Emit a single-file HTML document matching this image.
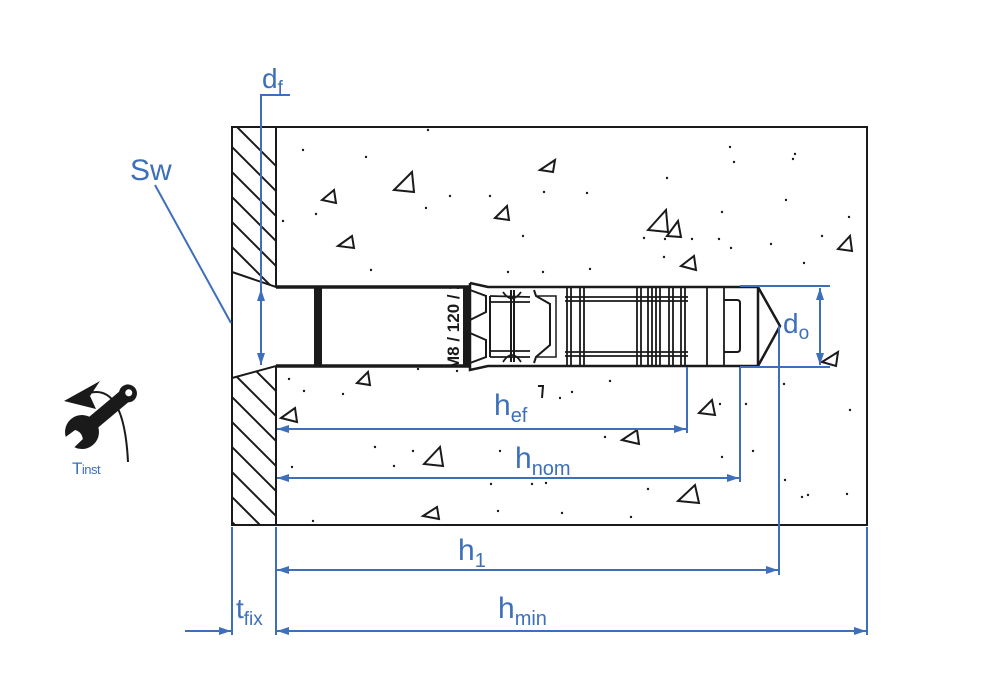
<!DOCTYPE html>
<html><head><meta charset="utf-8"><style>
html,body{margin:0;padding:0;background:#fff;}
svg{display:block;}
text{font-family:"Liberation Sans",Arial,sans-serif;fill:#3d6fba;}
</style></head><body>
<svg width="1000" height="700" viewBox="0 0 1000 700" xmlns="http://www.w3.org/2000/svg">
<defs>
<clipPath id="pl"><polygon points="232,127 276,127 276,287 232,272 232,378 276,366 276,525 232,525"/></clipPath>
<clipPath id="tx"><rect x="440" y="288" width="24" height="77"/></clipPath>
<marker id="a" viewBox="0 0 12 8" refX="12" refY="4" markerWidth="12" markerHeight="8" orient="auto-start-reverse" markerUnits="userSpaceOnUse"><path d="M0,0 L12,4 L0,8 Z" fill="#3d6fba"/></marker>
</defs>
<rect x="232" y="127" width="635" height="398" fill="#fff" stroke="#1a1a1a" stroke-width="2"/>
<g clip-path="url(#pl)" stroke="#1a1a1a" stroke-width="2">
<line x1="200" y1="90" x2="320" y2="210"/><line x1="200" y1="115" x2="320" y2="235"/><line x1="200" y1="140" x2="320" y2="260"/><line x1="200" y1="165" x2="320" y2="285"/><line x1="200" y1="190" x2="320" y2="310"/><line x1="200" y1="215" x2="320" y2="335"/><line x1="200" y1="240" x2="320" y2="360"/><line x1="200" y1="265" x2="320" y2="385"/><line x1="200" y1="290" x2="320" y2="410"/><line x1="200" y1="315" x2="320" y2="435"/><line x1="200" y1="340" x2="320" y2="460"/><line x1="200" y1="365" x2="320" y2="485"/><line x1="200" y1="390" x2="320" y2="510"/><line x1="200" y1="415" x2="320" y2="535"/><line x1="200" y1="440" x2="320" y2="560"/><line x1="200" y1="465" x2="320" y2="585"/><line x1="200" y1="490" x2="320" y2="610"/><line x1="200" y1="515" x2="320" y2="635"/>
</g>
<g fill="none" stroke="#1a1a1a" stroke-width="2">
<polyline points="232,127 232,525"/>
<polyline points="276,127 276,287 232,272"/>
<polyline points="232,378 276,366 276,525"/>
</g>
<g fill="none" stroke="#1a1a1a">
<line x1="276" y1="287" x2="470" y2="287" stroke-width="3.5"/>
<line x1="276" y1="366" x2="470" y2="366" stroke-width="3.5"/>
<rect x="314" y="288" width="8" height="77" fill="#1a1a1a" stroke="none"/>
<rect x="463" y="288" width="6" height="77" fill="#1a1a1a" stroke="none"/>
<polyline points="470,283 488,287 758,287 758,366 488,366 470,370 470,283" stroke-width="2.5"/>
<polyline points="470,290 486,296 486,312 470,320 470,333 486,340 486,357 470,363" stroke-width="2"/>
<line x1="490" y1="296" x2="490" y2="357" stroke-width="2"/>
<line x1="511" y1="290" x2="511" y2="362" stroke-width="2"/>
<line x1="514" y1="290" x2="514" y2="362" stroke-width="2"/>
<path d="M490,296 L530,297 M490,302 L530,302 M490,351 L530,351 M490,357 L530,357 M503,292 Q512,305 521,292 M503,362 Q512,348 521,362" stroke-width="1.8"/>
<polyline points="534,290 536,296 550,304 550,345 536,357 534,363" stroke-width="2"/>
<polyline points="537,296 556,296 556,357 537,357" stroke-width="1.5"/>
<g stroke-width="1.8">
<line x1="567" y1="287" x2="567" y2="366"/><line x1="571" y1="287" x2="571" y2="366"/>
<line x1="580" y1="287" x2="580" y2="366"/><line x1="584" y1="287" x2="584" y2="366"/>
<line x1="637" y1="287" x2="637" y2="366"/><line x1="641" y1="287" x2="641" y2="366"/>
<line x1="648" y1="287" x2="648" y2="366"/><line x1="652" y1="287" x2="652" y2="366"/>
<line x1="656" y1="287" x2="656" y2="366"/><line x1="660" y1="287" x2="660" y2="366"/>
<line x1="669" y1="287" x2="669" y2="366"/><line x1="673" y1="287" x2="673" y2="366"/>
<line x1="681" y1="287" x2="681" y2="366"/><line x1="685" y1="287" x2="685" y2="366"/>
<line x1="565" y1="297" x2="688" y2="297"/><line x1="565" y1="301" x2="688" y2="301"/>
<line x1="565" y1="352" x2="688" y2="352"/><line x1="565" y1="356" x2="688" y2="356"/>
<line x1="707" y1="287" x2="707" y2="366"/><line x1="724" y1="287" x2="724" y2="366"/>
</g>
<path d="M724,300 L737,300 Q740,300 740,303 L740,349 Q740,352 737,352 L724,352" stroke-width="2"/>
<polyline points="758,287 780,326 758,366" stroke-width="2.5"/>
</g>
<g clip-path="url(#tx)"><text x="0" y="0" transform="translate(459,370) rotate(-90)" style="fill:#1a1a1a;font-weight:bold;font-size:17px">M8 / 120 / 2</text></g>
<g fill="none" stroke="#1a1a1a" stroke-width="2">
<polygon points="394,190 412,172 414,192"/><polygon points="540,170 555,160 553,172"/>
<polygon points="322,200 334,190 336,203"/><polygon points="338,246 352,236 354,248"/>
<polygon points="495,218 507,206 509,220"/><polygon points="648,230 666,210 668,232"/>
<polygon points="667,236 678,221 681,237"/><polygon points="681,266 694,256 696,270"/>
<polygon points="838,249 850,236 852,251"/><polygon points="357,383 368,372 370,385"/>
<polygon points="281,418 295,408 297,422"/><polygon points="424,464 440,447 443,466"/>
<polygon points="622,440 637,430 639,444"/><polygon points="699,413 712,400 715,415"/>
<polygon points="678,501 695,485 699,503"/><polygon points="423,516 437,507 439,519"/>
<polygon points="822,362 838,352 836,366"/>
</g>
<g fill="#1a1a1a">
<circle cx="428" cy="130" r="1.2"/><circle cx="303" cy="150" r="1.2"/><circle cx="366" cy="157" r="1.2"/><circle cx="730" cy="147" r="1.2"/><circle cx="734" cy="162" r="1.2"/><circle cx="795" cy="154" r="1.2"/><circle cx="793" cy="159" r="1.2"/><circle cx="667" cy="178" r="1.2"/><circle cx="786" cy="200" r="1.2"/><circle cx="587" cy="193" r="1.2"/><circle cx="544" cy="192" r="1.2"/><circle cx="490" cy="196" r="1.2"/><circle cx="450" cy="196" r="1.2"/><circle cx="426" cy="208" r="1.2"/><circle cx="316" cy="214" r="1.2"/><circle cx="283" cy="221" r="1.2"/><circle cx="523" cy="236" r="1.2"/><circle cx="722" cy="212" r="1.2"/><circle cx="731" cy="248" r="1.2"/><circle cx="771" cy="244" r="1.2"/><circle cx="849" cy="217" r="1.2"/><circle cx="692" cy="239" r="1.2"/><circle cx="664" cy="257" r="1.2"/><circle cx="665" cy="239" r="1.2"/><circle cx="644" cy="238" r="1.2"/><circle cx="822" cy="236" r="1.2"/><circle cx="804" cy="263" r="1.2"/><circle cx="371" cy="270" r="1.2"/><circle cx="508" cy="272" r="1.2"/><circle cx="543" cy="272" r="1.2"/><circle cx="590" cy="269" r="1.2"/><circle cx="719" cy="239" r="1.2"/><circle cx="289" cy="379" r="1.2"/><circle cx="418" cy="369" r="1.2"/><circle cx="457" cy="371" r="1.2"/><circle cx="304" cy="391" r="1.2"/><circle cx="343" cy="394" r="1.2"/><circle cx="572" cy="392" r="1.2"/><circle cx="610" cy="381" r="1.2"/><circle cx="784" cy="384" r="1.2"/><circle cx="746" cy="404" r="1.2"/><circle cx="850" cy="410" r="1.2"/><circle cx="605" cy="437" r="1.2"/><circle cx="375" cy="447" r="1.2"/><circle cx="394" cy="466" r="1.2"/><circle cx="413" cy="451" r="1.2"/><circle cx="500" cy="451" r="1.2"/><circle cx="292" cy="467" r="1.2"/><circle cx="722" cy="457" r="1.2"/><circle cx="753" cy="451" r="1.2"/><circle cx="785" cy="480" r="1.2"/><circle cx="808" cy="495" r="1.2"/><circle cx="802" cy="497" r="1.2"/><circle cx="847" cy="494" r="1.2"/><circle cx="648" cy="489" r="1.2"/><circle cx="532" cy="484" r="1.2"/><circle cx="546" cy="483" r="1.2"/><circle cx="491" cy="484" r="1.2"/><circle cx="313" cy="521" r="1.2"/><circle cx="498" cy="511" r="1.2"/><circle cx="562" cy="513" r="1.2"/><circle cx="631" cy="517" r="1.2"/><circle cx="560" cy="398" r="1.2"/><circle cx="720" cy="404" r="1.2"/>
</g>
<path d="M538,386 L543,386 L542,398" fill="none" stroke="#1a1a1a" stroke-width="2"/>
<g stroke="#3d6fba" stroke-width="2" fill="none">
<line x1="155" y1="185" x2="231" y2="323"/>
<polyline points="290,95 261,95 261,365"/>
<line x1="261" y1="320" x2="261" y2="289" marker-end="url(#a)"/>
<line x1="261" y1="330" x2="261" y2="365" marker-end="url(#a)"/>
<line x1="740" y1="286" x2="830" y2="286"/><line x1="740" y1="367" x2="830" y2="367"/>
<line x1="820" y1="288" x2="820" y2="365" marker-start="url(#a)" marker-end="url(#a)"/>
<line x1="687" y1="367" x2="687" y2="433"/>
<line x1="740" y1="367" x2="740" y2="482"/>
<line x1="779" y1="326" x2="779" y2="575"/>
<line x1="232" y1="527" x2="232" y2="635"/><line x1="276" y1="527" x2="276" y2="635"/><line x1="867" y1="527" x2="867" y2="635"/>
<line x1="277" y1="429" x2="686" y2="429" marker-start="url(#a)" marker-end="url(#a)"/>
<line x1="277" y1="478" x2="739" y2="478" marker-start="url(#a)" marker-end="url(#a)"/>
<line x1="277" y1="570" x2="778" y2="570" marker-start="url(#a)" marker-end="url(#a)"/>
<line x1="277" y1="631" x2="866" y2="631" marker-start="url(#a)" marker-end="url(#a)"/>
<line x1="185" y1="631" x2="231" y2="631" marker-end="url(#a)"/>
</g>
<text x="130" y="180" font-size="30">Sw</text>
<text x="262" y="88" font-size="28">d<tspan font-size="19" dy="6">f</tspan></text>
<text x="783" y="333" font-size="28">d<tspan font-size="19" dy="6">o</tspan></text>
<text x="494" y="415" font-size="30">h<tspan font-size="20" dy="7">ef</tspan></text>
<text x="515" y="468" font-size="30">h<tspan font-size="20" dy="7">nom</tspan></text>
<text x="458" y="560" font-size="30">h<tspan font-size="20" dy="7">1</tspan></text>
<text x="498" y="618" font-size="30">h<tspan font-size="20" dy="7">min</tspan></text>
<text x="236" y="618" font-size="28">t<tspan font-size="19" dy="7">fix</tspan></text>
<text x="72" y="474" font-size="17" style="letter-spacing:-0.5px">T<tspan font-size="13">inst</tspan></text>
<!-- wrench icon -->
<path d="M86,394 Q124,380 128,462" fill="none" stroke="#1a1a1a" stroke-width="2"/>
<polygon points="64,401 100,381 90,396 96,409" fill="#1a1a1a"/>
<g transform="translate(82,432) rotate(-40)" fill="#1a1a1a">
<rect x="0" y="-7" width="60" height="14" rx="3"/>
<circle cx="0" cy="0" r="17"/>
<circle cx="60" cy="0" r="9"/>
<circle cx="61" cy="0" r="3.5" fill="#fff"/>
<path d="M-20,-7 L-4,-6 Q0,0 -4,6 L-20,7 Z" fill="#fff"/>
</g>
</svg>
</body></html>
